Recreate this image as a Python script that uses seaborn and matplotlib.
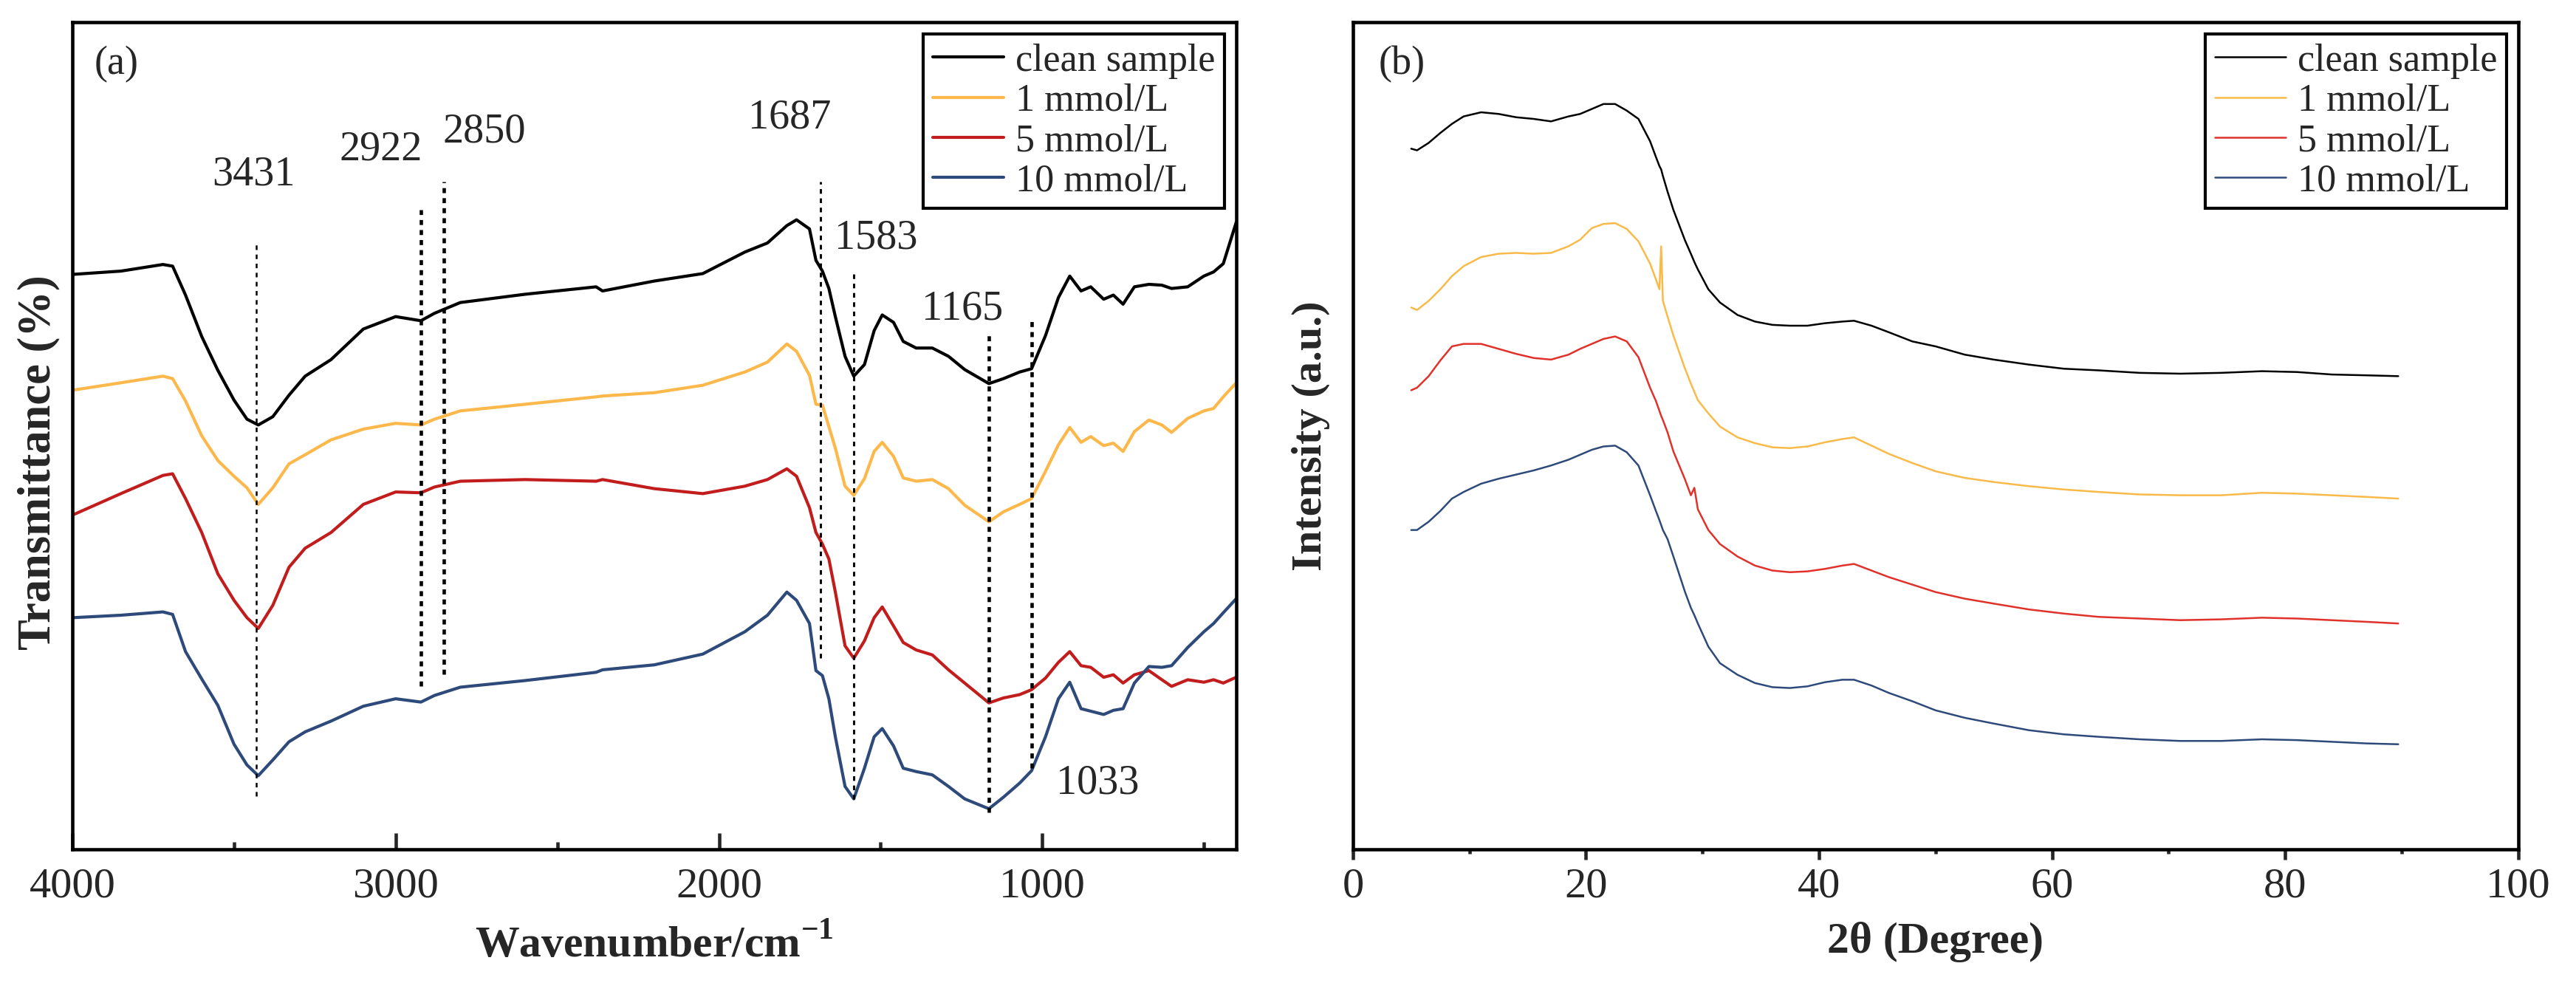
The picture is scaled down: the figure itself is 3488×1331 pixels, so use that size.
import numpy as np
import pandas as pd
import matplotlib
matplotlib.use('Agg')
import matplotlib.pyplot as plt
from matplotlib.ticker import MultipleLocator
import seaborn as sns

# Muestras y colores
samples = ['clean sample', '1 mmol/L', '5 mmol/L', '10 mmol/L']
ftir_colors = ['#000000', '#FDB84C', '#C21D1D', '#2E4A7A']
xrd_colors = ['#000000', '#F9BA4A', '#E0322A', '#2E4A7A']

# (a) FTIR: numero de onda (cm-1) y transmitancia desplazada (u.a.)
wavenumber = [4000, 3850, 3720, 3690, 3650, 3600, 3550, 3500, 3460, 3425,
              3380, 3330, 3280, 3200, 3100, 3000, 2922, 2880, 2800, 2600,
              2380, 2360, 2200, 2050, 1920, 1850, 1790, 1760, 1720, 1700,
              1680, 1660, 1640, 1610, 1583, 1550, 1520, 1495, 1460, 1430,
              1390, 1340, 1290, 1240, 1165, 1120, 1070, 1033, 990, 950,
              915, 880, 850, 810, 780, 750, 715, 670, 630, 600,
              550, 500, 470, 440, 400]
ftir_clean = [69.5, 69.9, 70.7, 70.5, 67.0, 62.0, 57.9, 54.3, 52.0, 51.3,
              52.3, 54.9, 57.2, 59.2, 62.9, 64.4, 63.9, 64.8, 66.1, 67.1,
              68.0, 67.5, 68.7, 69.6, 72.2, 73.3, 75.4, 76.1, 75.0, 71.2,
              69.9, 67.8, 64.4, 59.6, 57.2, 58.6, 62.7, 64.6, 63.7, 61.4,
              60.6, 60.6, 59.6, 58.0, 56.3, 56.9, 57.7, 58.1, 62.1, 66.7,
              69.3, 67.5, 68.0, 66.5, 67.0, 65.9, 68.0, 68.3, 68.2, 67.8,
              68.0, 69.3, 69.8, 70.8, 75.8]
ftir_1mm = [55.5, 56.4, 57.2, 56.9, 54.2, 50.0, 47.0, 45.1, 43.7, 41.7,
            43.7, 46.6, 47.7, 49.5, 50.8, 51.5, 51.3, 52.0, 53.0, 53.8,
            54.7, 54.8, 55.2, 56.1, 57.7, 58.9, 61.1, 60.2, 57.3, 53.8,
            53.7, 51.1, 48.5, 43.9, 42.8, 44.8, 48.1, 49.2, 47.5, 44.9,
            44.5, 44.7, 43.6, 41.6, 39.6, 40.8, 41.7, 42.4, 45.7, 48.9,
            51.0, 49.2, 49.9, 48.8, 49.1, 48.1, 50.5, 51.9, 51.3, 50.4,
            52.1, 53.0, 53.3, 54.7, 56.4]
ftir_5mm = [40.4, 43.0, 45.2, 45.4, 42.4, 38.3, 33.3, 30.1, 28.0, 26.7,
            29.5, 34.1, 36.4, 38.3, 41.7, 43.2, 43.1, 43.8, 44.5, 44.7,
            44.5, 44.7, 43.6, 43.0, 43.9, 44.7, 46.0, 45.1, 41.3, 38.3,
            36.9, 35.1, 31.1, 24.6, 23.1, 25.2, 28.0, 29.3, 27.0, 25.0,
            24.1, 23.5, 21.7, 20.1, 17.7, 18.3, 18.7, 19.3, 20.7, 22.6,
            23.9, 22.2, 22.0, 20.8, 21.1, 20.1, 21.1, 21.6, 20.5, 19.7,
            20.5, 20.2, 20.5, 20.1, 20.8]
ftir_10mm = [28.0, 28.3, 28.7, 28.4, 23.9, 20.6, 17.4, 12.7, 10.2, 8.9,
             10.8, 13.0, 14.2, 15.5, 17.3, 18.2, 17.8, 18.6, 19.6, 20.4,
             21.4, 21.7, 22.3, 23.6, 26.3, 28.3, 31.1, 30.1, 27.3, 21.6,
             21.0, 18.2, 13.6, 7.6, 6.1, 9.8, 13.6, 14.6, 12.5, 9.8,
             9.4, 9.0, 7.6, 6.1, 4.9, 6.3, 8.0, 9.5, 13.6, 18.2,
             20.2, 17.0, 16.7, 16.3, 16.8, 17.0, 20.1, 22.1, 22.0, 22.2,
             24.4, 26.3, 27.3, 28.6, 30.3]

# Picos marcados en el FTIR
peak_wn = [3431, 2922, 2850, 1687, 1583, 1165, 1033]
peak_labels = ['3431', '2922', '2850', '1687', '1583', '1165', '1033']
peak_top = [73.1, 77.3, 80.7, 80.7, 69.7, 62.5, 64.4]
peak_bottom = [6.4, 19.7, 21.2, 23.1, 6.1, 4.5, 9.8]
label_x = [3439, 3046, 2725, 1782, 1514, 1248, 828]
label_y = [81.6, 84.6, 86.7, 88.4, 73.9, 65.3, 8.0]
peak_lw = [0.6, 1.1, 1.1, 0.7, 0.7, 1.1, 1.1]

# (b) XRD: 2theta (grados) e intensidad desplazada (u.a.)
two_theta = [5, 5.5, 6.5, 7.5, 8.5, 9.5, 11, 12.5, 14, 15.5,
             17, 18.5, 19.5, 20.5, 21.5, 22.5, 23.5, 24.5, 25.5, 26,
             26.3, 26.45, 26.6, 27, 27.5, 28.5, 29, 29.3, 29.6, 30.5,
             31.5, 33, 34.5, 36, 37.5, 39, 40.5, 42, 43, 44.5,
             46, 48, 50, 52.5, 55, 58, 61, 64, 67.5, 71,
             74.5, 78, 81, 84, 87, 89.7]
xrd_clean = [84.7, 84.5, 85.4, 86.6, 87.7, 88.6, 89.1, 88.9, 88.5, 88.3,
             88.0, 88.6, 88.9, 89.5, 90.1, 90.1, 89.3, 88.3, 85.6, 83.7,
             82.6, 82.2, 81.4, 79.5, 77.3, 73.6, 72.0, 71.0, 70.1, 67.7,
             66.1, 64.6, 63.8, 63.4, 63.3, 63.3, 63.6, 63.8, 63.9, 63.3,
             62.5, 61.4, 60.8, 59.8, 59.2, 58.6, 58.1, 57.9, 57.6, 57.5,
             57.6, 57.8, 57.7, 57.4, 57.3, 57.2]
xrd_1mm = [65.5, 65.2, 66.3, 67.7, 69.3, 70.5, 71.6, 72.0, 72.1, 72.0,
           72.1, 72.9, 73.7, 75.1, 75.6, 75.7, 75.0, 73.5, 70.8, 68.9,
           67.7, 72.9, 66.3, 64.4, 62.1, 58.1, 56.3, 55.3, 54.3, 52.7,
           51.1, 49.8, 49.1, 48.6, 48.5, 48.7, 49.2, 49.6, 49.8, 48.8,
           47.8, 46.7, 45.7, 44.9, 44.4, 43.9, 43.5, 43.2, 42.9, 42.8,
           42.8, 43.1, 43.0, 42.8, 42.6, 42.4]
xrd_5mm = [55.5, 55.8, 57.2, 59.1, 60.8, 61.1, 61.1, 60.5, 59.9, 59.4,
           59.2, 59.8, 60.5, 61.1, 61.7, 62.0, 61.4, 59.5, 55.8, 54.2,
           53.0, 52.4, 51.9, 50.4, 48.1, 44.7, 42.8, 43.7, 41.1, 38.6,
           36.9, 35.4, 34.3, 33.7, 33.5, 33.6, 33.9, 34.3, 34.5, 33.7,
           32.9, 32.0, 31.1, 30.3, 29.7, 29.0, 28.5, 28.1, 27.9, 27.7,
           27.8, 28.0, 27.9, 27.7, 27.5, 27.3]
xrd_10mm = [38.6, 38.6, 39.6, 40.9, 42.4, 43.2, 44.2, 44.8, 45.3, 45.8,
            46.4, 47.1, 47.7, 48.3, 48.7, 48.8, 48.0, 46.4, 42.8, 40.9,
            39.8, 39.2, 38.6, 37.5, 35.4, 31.1, 29.2, 28.3, 27.3, 24.5,
            22.5, 21.1, 20.1, 19.6, 19.5, 19.7, 20.2, 20.5, 20.5, 19.8,
            18.9, 17.9, 16.8, 15.9, 15.2, 14.4, 13.9, 13.6, 13.3, 13.1,
            13.1, 13.3, 13.2, 13.0, 12.8, 12.7]

# Tablas largas para seaborn
ftir = pd.DataFrame({
    'wavenumber': wavenumber * 4,
    'value': ftir_clean + ftir_1mm + ftir_5mm + ftir_10mm,
    'sample': np.repeat(samples, len(wavenumber)),
})
xrd = pd.DataFrame({
    'two_theta': two_theta * 4,
    'value': xrd_clean + xrd_1mm + xrd_5mm + xrd_10mm,
    'sample': np.repeat(samples, len(two_theta)),
})

sns.set_style('ticks')
plt.rcParams['font.family'] = ['Liberation Serif', 'DejaVu Serif']
plt.rcParams['mathtext.fontset'] = 'custom'
plt.rcParams['mathtext.rm'] = 'Liberation Serif'
plt.rcParams['mathtext.bf'] = 'Liberation Serif:bold'
plt.rcParams['axes.linewidth'] = 1.1
plt.rcParams['axes.edgecolor'] = 'black'

fig = plt.figure(figsize=(3488 / 300, 1331 / 300), dpi=300)
ax1 = fig.add_axes([0.0281, 0.136, 0.4518, 0.8415])
ax2 = fig.add_axes([0.5252, 0.136, 0.4524, 0.8415])

# Panel (a)
sns.lineplot(data=ftir, x='wavenumber', y='value', hue='sample', hue_order=samples,
             palette=ftir_colors, linewidth=1.0, estimator=None, ax=ax1)
for i in range(len(peak_wn)):
    dash = 1.3 / peak_lw[i] + 0.3
    ax1.vlines(peak_wn[i], peak_bottom[i], peak_top[i], colors='black',
               linewidth=peak_lw[i], linestyles=(0, (dash, dash)))
    ax1.text(label_x[i], label_y[i], peak_labels[i], fontsize=13.5, ha='center', va='center')
ax1.set_xlim(4000, 400)
ax1.set_ylim(0, 100)
ax1.set_yticks([])
ax1.xaxis.set_major_locator(MultipleLocator(1000))
ax1.xaxis.set_minor_locator(MultipleLocator(500))
ax1.tick_params(axis='x', which='major', direction='in', length=5.2, width=1.1,
                pad=6, labelsize=14)
ax1.tick_params(axis='x', which='minor', direction='in', length=2.4, width=1.1)
ax1.set_xlabel('Wavenumber/cm$^{\\mathbf{-1}}$', fontsize=14.3, fontweight='bold', labelpad=6)
ax1.set_ylabel('Transmittance (%)', fontsize=15, fontweight='bold', labelpad=4)
ax1.yaxis.label.set_y(0.468)
ax1.text(0.038, 0.949, '(a)', transform=ax1.transAxes, fontsize=13, ha='center', va='center')

# Panel (b)
sns.lineplot(data=xrd, x='two_theta', y='value', hue='sample', hue_order=samples,
             palette=xrd_colors, linewidth=0.6, estimator=None, ax=ax2)
ax2.set_xlim(0, 100)
ax2.set_ylim(0, 100)
ax2.set_yticks([])
ax2.xaxis.set_major_locator(MultipleLocator(20))
ax2.xaxis.set_minor_locator(MultipleLocator(10))
ax2.tick_params(axis='x', which='major', direction='out', length=3.4, width=1.1,
                pad=2.6, labelsize=14)
ax2.tick_params(axis='x', which='minor', direction='out', length=1.5, width=1.1)
ax2.set_xlabel('2θ (Degree)', fontsize=14.3, fontweight='bold', labelpad=5)
ax2.set_ylabel('Intensity (a.u.)', fontsize=14, fontweight='bold', labelpad=7.5)
ax2.text(0.042, 0.949, '(b)', transform=ax2.transAxes, fontsize=13, ha='center', va='center')

# Leyendas
for ax, lw in [(ax1, 1.0), (ax2, 0.6)]:
    handles, labels = ax.get_legend_handles_labels()
    for h in handles:
        h.set_linewidth(lw)
    leg = ax.legend(handles, labels, loc='upper right', fontsize=12.5, frameon=True,
                    fancybox=False, framealpha=1, edgecolor='black',
                    borderaxespad=0.3, borderpad=0.25, labelspacing=0.12,
                    handlelength=1.85, handletextpad=0.3)
    leg.get_frame().set_linewidth(1.0)

for ax in [ax1, ax2]:
    for s in ax.spines.values():
        s.set_visible(True)
        s.set_color('black')
        s.set_linewidth(1.1)

fig.savefig('out.png', dpi=300)
